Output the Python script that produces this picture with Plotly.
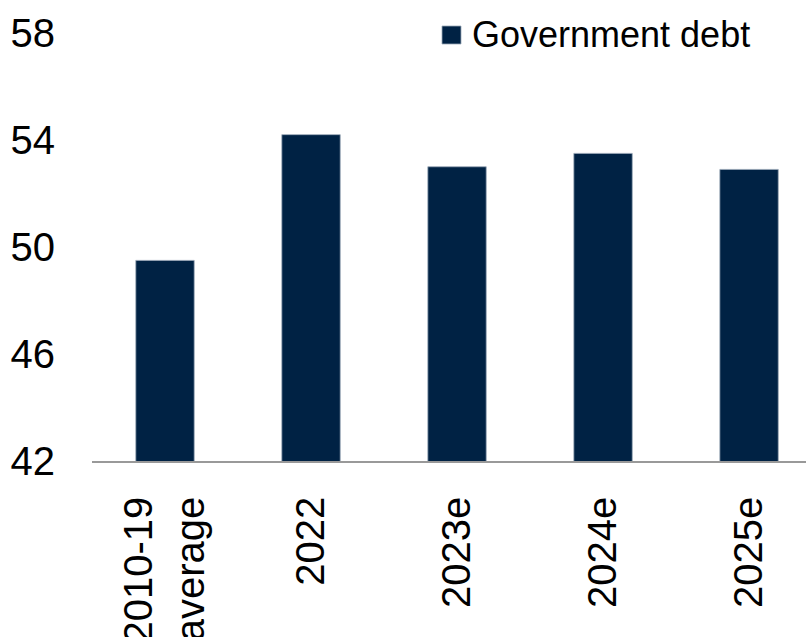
import plotly.graph_objects as go

# Government debt, % of GDP
categories = ["2010-19<br>average", "2022", "2023e", "2024e", "2025e"]
debt = [49.5, 54.2, 53.0, 53.5, 52.9]
y_ticks = [42, 46, 50, 54, 58]

BAR = "#002244"
FONT = "Liberation Sans, Arial, sans-serif"

fig = go.Figure()
fig.add_trace(go.Bar(
    x=list(range(len(categories))),
    y=debt,
    name="Government debt",
    marker=dict(color=BAR, line=dict(color="#9aa8b8", width=0.8)),
    showlegend=False,
))

# legend key drawn as a square plus label
fig.add_shape(type="rect", xref="paper", yref="paper",
              x0=(442 - 92) / 714, x1=(461 - 92) / 714,
              y0=(461 - 44) / 428, y1=(461 - 26) / 428,
              fillcolor=BAR, line=dict(color="#9aa8b8", width=0.8))
fig.add_annotation(text="Government debt", xref="paper", yref="paper",
                   x=(470 - 92) / 714, y=(461 - 35) / 428,
                   xanchor="left", yanchor="middle", showarrow=False,
                   font=dict(family=FONT, size=36, color="#000000"))

fig.update_layout(
    width=806, height=637,
    margin=dict(l=92, r=0, t=33, b=176, autoexpand=False),
    paper_bgcolor="white", plot_bgcolor="white",
    bargap=0.6,
    font=dict(family=FONT, size=40, color="#000000"),
)
fig.update_xaxes(
    tickmode="array", tickvals=list(range(len(categories))), ticktext=categories,
    range=[-0.5, 4.39], tickangle=-90,
    showline=True, linecolor="#999999", linewidth=1.5,
    showgrid=False, zeroline=False, ticks="", ticklabelstandoff=18,
    automargin=False,
)
fig.update_yaxes(
    range=[42, 58], tickvals=y_ticks,
    showline=False, showgrid=False, zeroline=False, ticks="",
    ticklabelstandoff=36, automargin=False,
)

fig.write_html("out.html")
